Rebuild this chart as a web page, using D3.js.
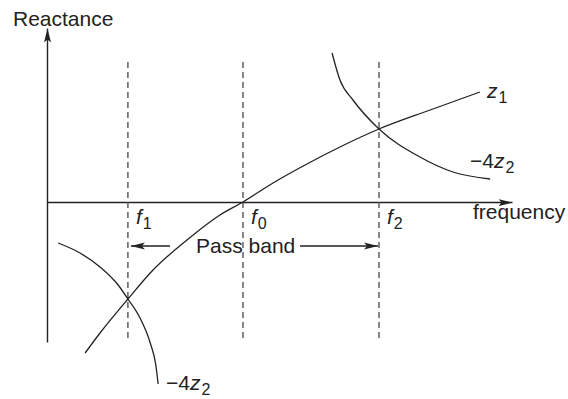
<!DOCTYPE html>
<html>
<head>
<meta charset="utf-8">
<script src="https://cdn.jsdelivr.net/npm/d3@7"></script>
<style>
  body { margin: 0; background: #fff; }
  text { font-family: "Liberation Sans", Arial, sans-serif; fill: #222; }
</style>
</head>
<body>
<div id="chart"></div>
<script>
// curves (frequency, reactance)
var z1 = [[0.82, -7.55], [1.14, -6.55], [1.74, -4.85], [2.28, -3.4], [3.01, -1.9],
          [3.72, -0.65], [4.215, 0], [4.86, 0.95], [5.59, 1.9], [6.30, 2.75],
          [7.14, 3.65], [8.24, 4.6], [9.31, 5.5]];
var z2_upper = [[6.13, 7.45], [6.30, 6.1], [6.58, 5.1], [7.14, 3.65], [8.02, 2.25],
                [8.73, 1.5], [9.53, 1.15]];
var z2_lower = [[0.24, -2.05], [0.71, -2.55], [1.14, -3.25], [1.53, -4.15], [1.74, -4.85],
                [2.0, -5.8], [2.22, -7.05], [2.34, -8.15], [2.39, -9.1]];

var freqs = [1.74, 4.215, 7.14];
var freq_subs = ["1", "0", "2"];

var width = 568, height = 399;
var ink = "#222";

var svg = d3.select("#chart")
    .append("svg")
    .attr("width", width)
    .attr("height", height);

var x = d3.scaleLinear().domain([0, 10]).range([47, 512]);
var y = d3.scaleLinear().domain([-7, 8.7]).range([342, 28]);

// arrow heads
var defs = svg.append("defs");
defs.append("marker")
    .attr("id", "arrow")
    .attr("markerUnits", "userSpaceOnUse")
    .attr("viewBox", "0 -4 14 8")
    .attr("refX", 14)
    .attr("refY", 0)
    .attr("markerWidth", 14)
    .attr("markerHeight", 8)
    .attr("orient", "auto")
    .append("path")
    .attr("d", "M0,-3.5L14,0L0,3.5L3,0Z")
    .style("fill", ink);

// axes, no ticks
svg.append("g")
    .attr("transform", "translate(0," + y(0) + ")")
    .call(d3.axisBottom(x).tickValues([]).tickSizeOuter(0));
svg.append("g")
    .attr("transform", "translate(" + x(0) + ",0)")
    .call(d3.axisLeft(y).tickValues([]).tickSizeOuter(0));
svg.selectAll(".domain")
    .attr("stroke", ink)
    .attr("stroke-width", 1.4)
    .attr("marker-end", "url(#arrow)");

// dashed frequency lines
svg.selectAll(".fline").data(freqs)
    .enter()
    .append("line")
    .attr("class", "fline")
    .attr("x1", function(d) { return x(d); })
    .attr("x2", function(d) { return x(d); })
    .attr("y1", y(7.0))
    .attr("y2", y(-7))
    .attr("stroke", "#555")
    .attr("stroke-width", 1.4)
    .attr("stroke-dasharray", "6,4");

// curves
var line = d3.line()
    .x(function(d) { return x(d[0]); })
    .y(function(d) { return y(d[1]); })
    .curve(d3.curveMonotoneX);

[z1, z2_upper, z2_lower].forEach(function(c) {
    svg.append("path")
        .datum(c)
        .attr("d", line)
        .attr("fill", "none")
        .attr("stroke", ink)
        .attr("stroke-width", 1.3);
});

// labels
svg.append("text")
    .attr("x", 13)
    .attr("y", 26)
    .text("Reactance")
    .style("font-size", "21px");

svg.append("text")
    .attr("x", 473)
    .attr("y", 219)
    .text("frequency")
    .style("font-size", "21px");

var fl = svg.selectAll(".flabel").data(freqs)
    .enter()
    .append("text")
    .attr("class", "flabel")
    .attr("x", function(d) { return x(d) + 8; })
    .attr("y", 224)
    .style("font-size", "21px");
fl.append("tspan").text("f").style("font-style", "italic");
fl.append("tspan")
    .attr("dx", 1)
    .attr("dy", 5)
    .style("font-size", "16px")
    .text(function(d, i) { return freq_subs[i]; });

function zLabel(px, py, prefix, sub) {
    var t = svg.append("text")
        .attr("x", px)
        .attr("y", py)
        .style("font-size", "21px");
    if (prefix) t.append("tspan").text(prefix);
    t.append("tspan").text("z").style("font-style", "italic");
    t.append("tspan")
        .attr("dx", 1)
        .attr("dy", 5)
        .style("font-size", "16px")
        .text(sub);
}
zLabel(x(9.31) + 7, y(5.5) + 6, null, "1");
zLabel(470, 168, "\u22124", "2");
zLabel(166, 390, "\u22124", "2");

// pass band
var bandY = 246;
svg.append("line")
    .attr("x1", 170).attr("x2", x(freqs[0]) + 3)
    .attr("y1", bandY).attr("y2", bandY)
    .attr("stroke", ink).attr("stroke-width", 1.4)
    .attr("marker-end", "url(#arrow)");
svg.append("line")
    .attr("x1", 300).attr("x2", x(freqs[2]) - 1)
    .attr("y1", bandY).attr("y2", bandY)
    .attr("stroke", ink).attr("stroke-width", 1.4)
    .attr("marker-end", "url(#arrow)");
svg.append("text")
    .attr("x", 196)
    .attr("y", 253)
    .text("Pass band")
    .style("font-size", "21px");
</script>
</body>
</html>
